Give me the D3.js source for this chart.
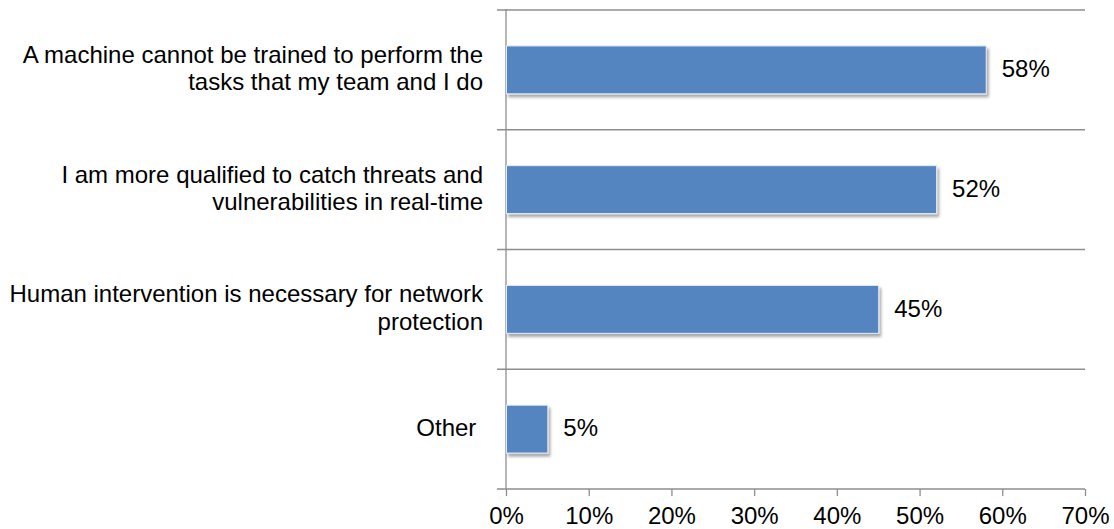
<!DOCTYPE html>
<html>
<head>
<meta charset="utf-8">
<script src="https://cdn.jsdelivr.net/npm/d3@7"></script>
<style>
  html, body { margin: 0; padding: 0; background: #fff; }
  svg { display: block; font-family: "Liberation Sans", Arial, sans-serif; }
</style>
</head>
<body>
<svg id="chart" width="1114" height="529"></svg>
<script>
// Survey responses: reasons people give for staying ahead of machines
const categories = [
  ["A machine cannot be trained to perform the", "tasks that my team and I do"],
  ["I am more qualified to catch threats and", "vulnerabilities in real-time"],
  ["Human intervention is necessary for network", "protection"],
  ["Other\u00a0"]
];
const values = [58, 52, 45, 5];
const xTicks = [0, 10, 20, 30, 40, 50, 60, 70];

const svg = d3.select("#chart");
const plotLeft = 506, plotRight = 1085, plotTop = 10, plotBottom = 489;
const fontSize = 24;

const x = d3.scaleLinear().domain([0, 70]).range([plotLeft, plotRight]);
const y = d3.scaleBand().domain(d3.range(categories.length)).range([plotTop, plotBottom]).paddingInner(0.6).paddingOuter(0.3);
const yb = d3.scaleBand().domain(d3.range(categories.length)).range([plotTop, plotBottom]);

const defs = svg.append("defs");
const f = defs.append("filter").attr("id", "shadow").attr("x", "-10%").attr("y", "-20%").attr("width", "130%").attr("height", "160%");
f.append("feGaussianBlur").attr("in", "SourceAlpha").attr("stdDeviation", 1.6).attr("result", "b");
f.append("feOffset").attr("in", "b").attr("dx", 1.5).attr("dy", 2.5).attr("result", "o");
f.append("feComponentTransfer").attr("in", "o").attr("result", "oa")
  .append("feFuncA").attr("type", "linear").attr("slope", 0.35);
const m = f.append("feMerge");
m.append("feMergeNode").attr("in", "oa");
m.append("feMergeNode").attr("in", "SourceGraphic");

const gridColor = "#8e8e8e";

// category boundaries (with short ticks to the left of the axis)
const bounds = d3.range(categories.length + 1).map(i => plotTop + i * yb.step());
svg.append("g").selectAll("line").data(bounds).join("line")
  .attr("x1", plotLeft - 9).attr("x2", plotRight)
  .attr("y1", d => d).attr("y2", d => d)
  .attr("stroke", gridColor).attr("stroke-width", 1.3);

// vertical axis line
svg.append("line").attr("x1", plotLeft).attr("x2", plotLeft).attr("y1", plotTop - 1).attr("y2", plotBottom)
  .attr("stroke", gridColor).attr("stroke-width", 1.3);

// bottom axis
const xAxis = d3.axisBottom(x).tickValues(xTicks).tickFormat(d => d + "%").tickSize(7).tickPadding(11);
const gx = svg.append("g").attr("transform", `translate(0,${plotBottom})`).call(xAxis);
gx.select(".domain").remove();
gx.selectAll(".tick line").attr("stroke", gridColor).attr("stroke-width", 1.3);
gx.selectAll(".tick text").attr("font-size", fontSize).attr("fill", "#000")
  .attr("font-family", "Liberation Sans, Arial, sans-serif");

// bars
svg.append("g").selectAll("rect").data(values).join("rect")
  .attr("x", x(0) + 0.5)
  .attr("y", (d, i) => y(i))
  .attr("width", d => x(d) - x(0))
  .attr("height", y.bandwidth())
  .attr("fill", "#5585c1")
  .attr("stroke", "#e3ebf5").attr("stroke-width", 1)
  .attr("filter", "url(#shadow)");

// value labels
svg.append("g").selectAll("text").data(values).join("text")
  .attr("x", d => x(d) + 16)
  .attr("y", (d, i) => y(i) + y.bandwidth() / 2)
  .attr("dy", "0.3em")
  .attr("font-size", fontSize)
  .text(d => d + "%");

// category labels
const lineH = 27.5;
const lab = svg.append("g").selectAll("text").data(categories).join("text")
  .attr("text-anchor", "end")
  .attr("font-size", fontSize)
  .attr("y", (d, i) => yb(i) + yb.bandwidth() / 2 + 0.28 * fontSize - (d.length - 1) * lineH / 2);
lab.each(function(lines) {
  const t = d3.select(this);
  lines.forEach((ln, k) => {
    t.append("tspan").attr("x", 483).attr("dy", k === 0 ? 0 : lineH).text(ln);
  });
});
</script>
</body>
</html>
